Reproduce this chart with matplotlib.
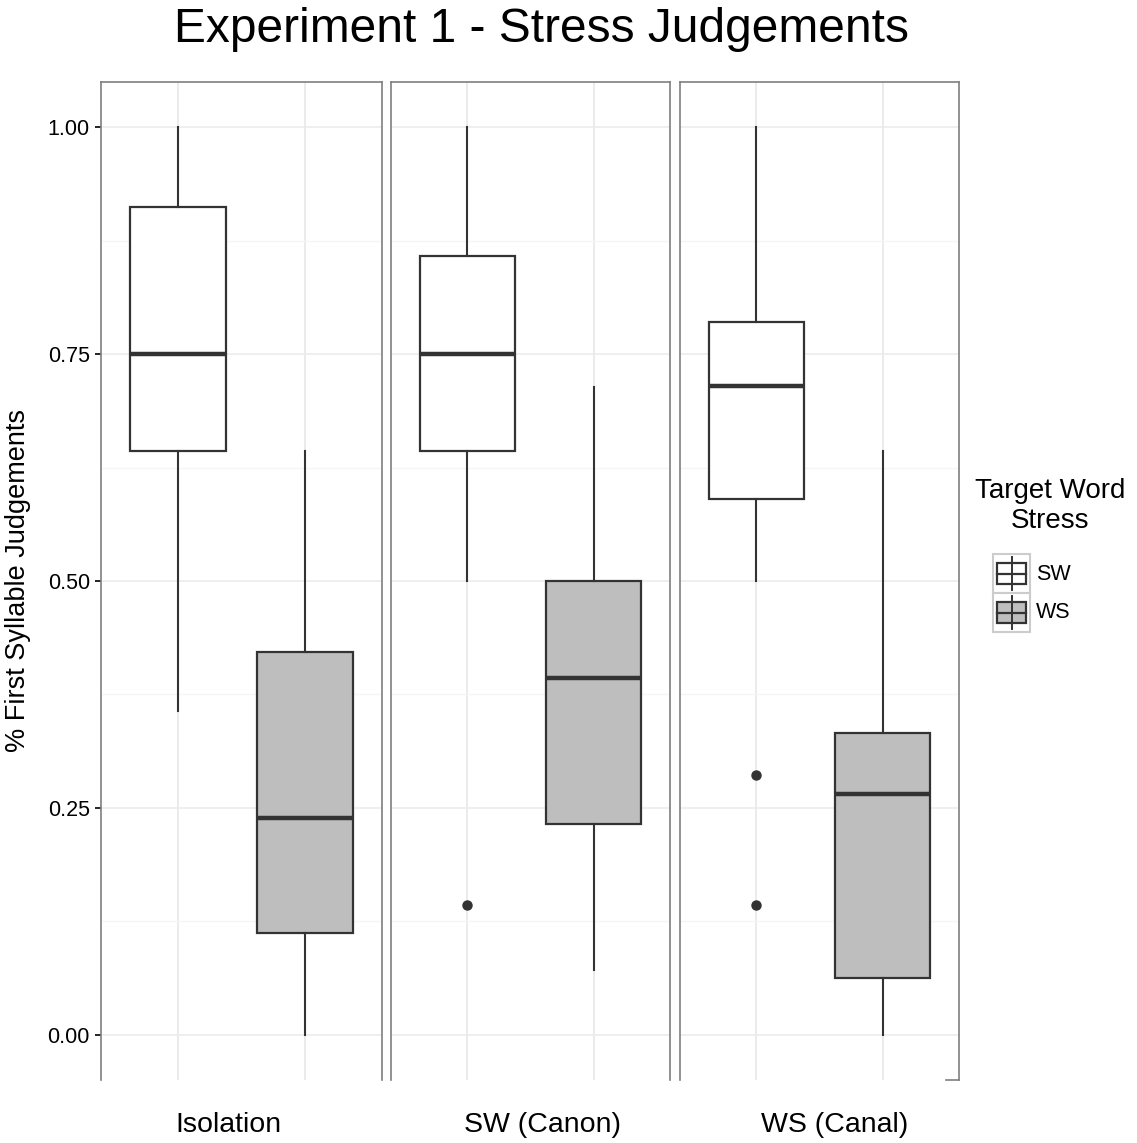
import matplotlib
matplotlib.use('Agg')
import matplotlib.pyplot as plt
from matplotlib.patches import Rectangle
from matplotlib.lines import Line2D

plt.rcParams['font.family'] = ['Liberation Sans', 'DejaVu Sans']

title = 'Experiment 1 - Stress Judgements'
contexts = ['Isolation', 'SW (Canon)', 'WS (Canal)']
stress = ['SW', 'WS']
fills = ['white', '#BEBEBE']

# five-number summaries: whislo, q1, med, q3, whishi
sw_stats = [[0.357, 0.643, 0.750, 0.912, 1.000],
            [0.500, 0.643, 0.750, 0.858, 1.000],
            [0.500, 0.590, 0.715, 0.786, 1.000]]
ws_stats = [[0.000, 0.112, 0.239, 0.422, 0.643],
            [0.071, 0.232, 0.393, 0.500, 0.714],
            [0.000, 0.062, 0.265, 0.332, 0.643]]
sw_outliers = [[], [0.143], [0.286, 0.143]]
ws_outliers = [[], [], []]

yticks = [0.0, 0.25, 0.5, 0.75, 1.0]
ytick_labels = ['0.00', '0.25', '0.50', '0.75', '1.00']

W, H = 1137, 1143
fig = plt.figure(figsize=(W / 100, H / 100), dpi=100)
panel_x = [(101, 382), (391, 670), (680, 959)]
top, bottom = 82, 1080
edge = '#333333'
border = '#7F7F7F'


def to_stats(vals, fl):
    lo, q1, med, q3, hi = vals
    return dict(whislo=lo, q1=q1, med=med, q3=q3, whishi=hi, fliers=fl)


for i, (x0, x1) in enumerate(panel_x):
    ax = fig.add_axes([x0 / W, 1 - bottom / H, (x1 - x0) / W, (bottom - top) / H])
    ax.set_xlim(0.4, 2.6)
    ax.set_ylim(-0.05, 1.05)
    ax.set_xticks([1, 2])
    ax.set_yticks(yticks)
    ax.set_yticks([0.125, 0.375, 0.625, 0.875], minor=True)
    ax.grid(which='major', color='#EBEBEB', lw=1.1)
    ax.grid(which='minor', axis='y', color='#F5F5F5', lw=0.9)
    ax.set_axisbelow(True)

    stats = [to_stats(sw_stats[i], sw_outliers[i]), to_stats(ws_stats[i], ws_outliers[i])]
    res = ax.bxp(stats, positions=[1, 2], widths=0.75, patch_artist=True, showcaps=False,
                 boxprops=dict(edgecolor=edge, linewidth=1.6),
                 whiskerprops=dict(color=edge, linewidth=1.5),
                 medianprops=dict(color=edge, linewidth=3.2, solid_capstyle='butt'),
                 flierprops=dict(marker='o', markerfacecolor=edge, markeredgecolor=edge,
                                 markersize=6.5))
    for patch, fc in zip(res['boxes'], fills):
        patch.set_facecolor(fc)

    for side in ['left', 'top', 'right']:
        ax.spines[side].set_color(border)
        ax.spines[side].set_linewidth(1.2)
    ax.spines['bottom'].set_visible(False)
    ax.tick_params(axis='x', length=0, labelbottom=False, which='both')
    ax.tick_params(axis='y', which='minor', length=0)
    if i == 0:
        ax.set_yticklabels(ytick_labels)
        ax.tick_params(axis='y', which='major', length=4, width=1.2, color='black',
                       labelsize=15.5, pad=4)
        ax.set_ylabel('% First Syllable Judgements', fontsize=19.5, labelpad=12)
    else:
        ax.tick_params(axis='y', which='major', length=0, labelleft=False)
    if i == 2:
        ax.add_line(Line2D([0.955, 1.0], [0, 0], transform=ax.transAxes,
                           color=border, lw=1.2, clip_on=False))

fig.text(541 / W, 1 - 29 / H, title, ha='center', va='center', fontsize=34.5)
for lab, xc in zip(contexts, [228, 542, 835]):
    fig.text(xc / W, 1 - 1125 / H, lab, ha='center', va='center', fontsize=20.5)

# legend drawn on an overlay in pixel units
lg = fig.add_axes([0, 0, 1, 1])
lg.set_xlim(0, W)
lg.set_ylim(H, 0)
lg.axis('off')
lg.text(1050, 506, 'Target Word\nStress', ha='center', va='center', fontsize=20,
        linespacing=1.15)
for k, (lab, fc) in enumerate(zip(stress, fills)):
    y0 = 554 + k * 39
    lg.add_patch(Rectangle((993, y0), 37, 39, facecolor='white', edgecolor='#CCCCCC', lw=1.5))
    lg.plot([1011.5, 1011.5], [y0 + 3, y0 + 36], color=edge, lw=1.4)
    lg.add_patch(Rectangle((997, y0 + 9), 29, 21, facecolor=fc, edgecolor=edge, lw=1.6))
    lg.plot([997, 1026], [y0 + 19.5, y0 + 19.5], color=edge, lw=1.6)
    lg.text(1036, y0 + 20, lab, ha='left', va='center', fontsize=15.5)

fig.savefig('out.png', dpi=100)
